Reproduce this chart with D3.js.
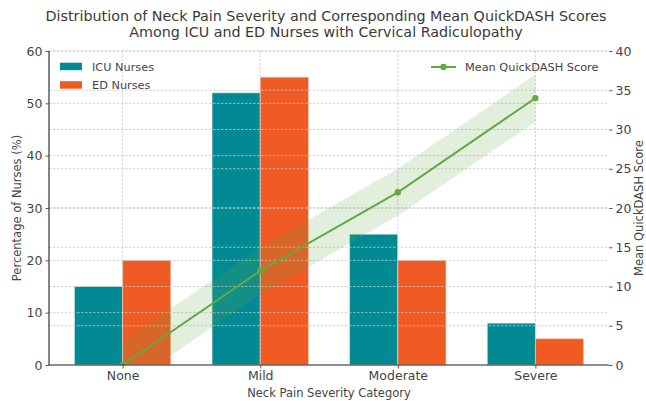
<!DOCTYPE html>
<html><head><meta charset="utf-8">
<script src="https://cdn.jsdelivr.net/npm/d3@7"></script>
<style>body{margin:0;background:#fff}svg{display:block;font-family:"DejaVu Sans",sans-serif}</style>
</head><body>
<svg id="c" width="646" height="401"></svg>
<script>
const categories = ["None","Mild","Moderate","Severe"];
const icuValues = [15,52,25,8];
const edValues = [20,55,20,5];
const quickdash = [0,12,22,34];
const bandHalf = [3,3,3,3];
const leftTicks = [0,10,20,30,40,50,60];
const rightTicks = [0,5,10,15,20,25,30,35,40];

const W=646,H=401, L=49,R=609,T=51,B=365;
const svg=d3.select("#c");
const textColor="#444", spine="#333";
const teal="#028a94", orange="#f05a23", green="#63a845";

const x=d3.scaleLinear().domain([-0.535,3.535]).range([L,R]);
const yL=d3.scaleLinear().domain([0,60]).range([B,T]);
const yR=d3.scaleLinear().domain([0,40]).range([B,T]);
const bw=0.35;

svg.append("defs").append("clipPath").attr("id","clip").append("rect")
  .attr("x",L).attr("y",T).attr("width",R-L).attr("height",B-T);

// bars
const g=svg.append("g");
g.selectAll(".icu").data(icuValues).join("rect")
  .attr("x",(d,i)=>x(i-bw)).attr("width",x(bw)-x(0))
  .attr("y",d=>yL(d)).attr("height",d=>B-yL(d)).attr("fill",teal)
  .attr("stroke","#d8e6e8").attr("stroke-width",0.6);
g.selectAll(".ed").data(edValues).join("rect")
  .attr("x",(d,i)=>x(i)).attr("width",x(bw)-x(0))
  .attr("y",d=>yL(d)).attr("height",d=>B-yL(d)).attr("fill",orange)
  .attr("stroke","#f6c8b5").attr("stroke-width",0.6);

// grids
const grid=svg.append("g").attr("stroke","#c8c8c8").attr("stroke-width",0.8).attr("stroke-dasharray","2.5,1.5").attr("fill","none");
leftTicks.forEach(t=>grid.append("line").attr("x1",L).attr("x2",R).attr("y1",yL(t)).attr("y2",yL(t)));
rightTicks.forEach(t=>grid.append("line").attr("x1",L).attr("x2",R).attr("y1",yR(t)).attr("y2",yR(t)));
categories.forEach((c,i)=>grid.append("line").attr("x1",x(i)).attr("x2",x(i)).attr("y1",T).attr("y2",B));

// band and line
const cl=svg.append("g").attr("clip-path","url(#clip)");
const idx=d3.range(categories.length);
cl.append("path").datum(idx)
  .attr("d",d3.area().x(i=>x(i)).y0(i=>yR(quickdash[i]-bandHalf[i])).y1(i=>yR(quickdash[i]+bandHalf[i])))
  .attr("fill",green).attr("fill-opacity",0.18);
cl.append("path").datum(idx)
  .attr("d",d3.line().x(i=>x(i)).y(i=>yR(quickdash[i])))
  .attr("fill","none").attr("stroke",green).attr("stroke-width",2);
cl.selectAll(".pt").data(idx).join("circle")
  .attr("cx",i=>x(i)).attr("cy",i=>yR(quickdash[i])).attr("r",3.2).attr("fill",green);

// axes
const axL=svg.append("g").attr("transform",`translate(${L},0)`)
  .call(d3.axisLeft(yL).tickValues(leftTicks).tickSize(3.5).tickPadding(3));
const axR=svg.append("g").attr("transform",`translate(${R},0)`)
  .call(d3.axisRight(yR).tickValues(rightTicks).tickSize(3.5).tickPadding(3));
const axB=svg.append("g").attr("transform",`translate(0,${B})`)
  .call(d3.axisBottom(x).tickValues(idx).tickFormat(i=>categories[i]).tickSize(3.5).tickPadding(3));
[axL,axR,axB].forEach(a=>{
  a.selectAll("text").attr("fill",textColor).style("font-size","12.5px").style("font-family","DejaVu Sans");
  a.selectAll(".tick line").attr("stroke",spine).attr("stroke-width",0.8);
});
axR.select(".domain").remove();
axL.select(".domain").attr("d",`M0,${B}V${T}`).attr("stroke",spine).attr("stroke-width",1.2);
axB.select(".domain").attr("d",`M${L},0H${R}`).attr("stroke",spine).attr("stroke-width",1.2);

// labels
svg.append("text").attr("x",326).attr("y",20.5).attr("text-anchor","middle").attr("fill","#3a3a3a").style("font-size","14.3px")
  .text("Distribution of Neck Pain Severity and Corresponding Mean QuickDASH Scores");
svg.append("text").attr("x",326).attr("y",37).attr("text-anchor","middle").attr("fill","#3a3a3a").style("font-size","14.3px")
  .text("Among ICU and ED Nurses with Cervical Radiculopathy");
svg.append("text").attr("x",(L+R)/2).attr("y",397).attr("text-anchor","middle").attr("fill",textColor).style("font-size","11.5px")
  .text("Neck Pain Severity Category");
svg.append("text").attr("transform",`translate(21,${(T+B)/2}) rotate(-90)`).attr("text-anchor","middle").attr("fill",textColor).style("font-size","11.5px")
  .text("Percentage of Nurses (%)");
svg.append("text").attr("transform",`translate(643,${(T+B)/2}) rotate(-90)`).attr("text-anchor","middle").attr("fill",textColor).style("font-size","11.5px")
  .text("Mean QuickDASH Score");

// legends
const lg=svg.append("g");
[["ICU Nurses",teal],["ED Nurses",orange]].forEach((d,i)=>{
  lg.append("rect").attr("x",60).attr("y",62.7+i*18.5).attr("width",22).attr("height",7.5).attr("fill",d[1]);
  lg.append("text").attr("x",92).attr("y",70.5+i*18.5).attr("fill",textColor).style("font-size",
  "11.3px").text(d[0]);
});
lg.append("line").attr("x1",431).attr("x2",456).attr("y1",67).attr("y2",67).attr("stroke",green).attr("stroke-width",2);
lg.append("circle").attr("cx",443.5).attr("cy",67).attr("r",3.2).attr("fill",green);
lg.append("text").attr("x",465).attr("y",71).attr("fill",textColor).style("font-size","11.3px").text("Mean QuickDASH Score");
</script>
</body></html>
